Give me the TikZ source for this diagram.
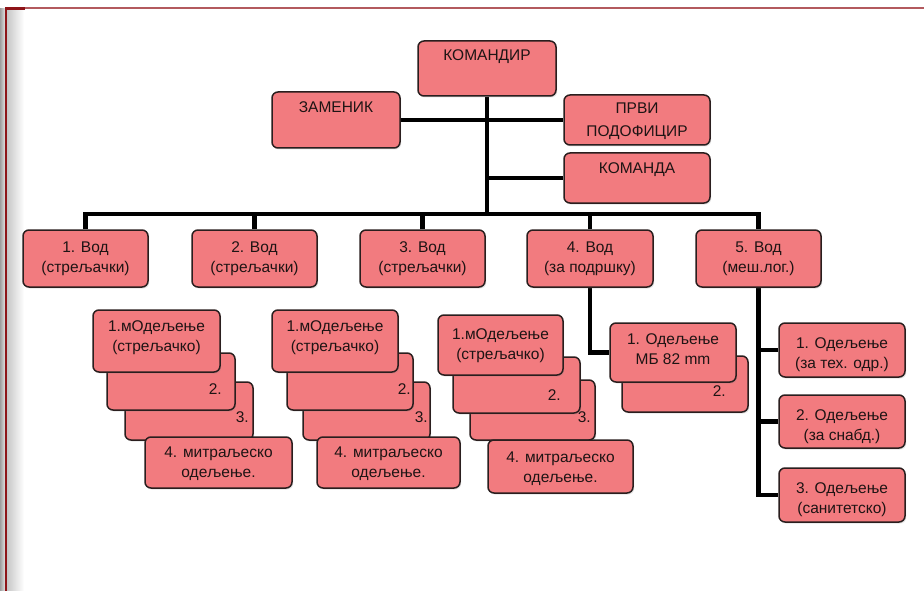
\documentclass[tikz,border=0pt]{standalone}
\usepackage{fontspec}
\setmainfont{Liberation Sans}
\usetikzlibrary{backgrounds,shadows}
\definecolor{boxfill}{HTML}{F27B7F}
\definecolor{boxedge}{HTML}{2A1E1E}
\definecolor{framedk}{HTML}{8E1418}
\definecolor{framelt}{HTML}{B35A5E}
\definecolor{txtc}{HTML}{1E1414}
% \obox[opts]{name}{x1}{y1}{x2}{y2}{text}
\newcommand\obox[7][]{%
  \node[box, minimum width={(#5)-(#3)}, minimum height={(#6)-(#4)}, #1]
    (#2) at ({((#3)+(#5))/2},{((#4)+(#6))/2}) {#7};}
\begin{document}
\begin{tikzpicture}[x=1pt,y=-1pt,
  box/.style={draw=boxedge, fill=boxfill, line width=1.5pt, rounded corners=6pt,
    inner sep=0pt, align=center, text=txtc,
    font=\fontsize{15.5}{20}\selectfont,
    drop shadow={opacity=0.22, shadow xshift=1.2pt, shadow yshift=-1.5pt}},
  th/.style 2 args={text height=#1pt, text depth=#2pt},
  lbl/.style={inner sep=0pt, text=txtc, font=\fontsize{15.5}{20}\selectfont, anchor=east},
  conn/.style={line width=4.5pt, black, line join=miter}]
\useasboundingbox (0,0) rectangle (924,591);

% top
\obox[th={19.4}{35.6}]{kom}{418}{41}{556}{96}{КОМАНДИР}
\obox[th={20.4}{35.6}]{zam}{272}{92}{400}{148}{ЗАМЕНИК}
\obox[th={41.9}{8.1}]{prvi}{564}{95}{710}{145}{ПРВИ\\[3pt]ПОДОФИЦИР}
\obox[th={20.4}{29.6}]{koma}{564}{153}{710}{203}{КОМАНДА}

% level 2
\obox[th={42.4}{14.6}]{v1}{23}{230}{148}{287}{1. Вод\\(стрељачки)}
\obox[th={42.4}{14.6}]{v2}{192}{230}{317}{287}{2. Вод\\(стрељачки)}
\obox[th={42.4}{14.6}]{v3}{360}{230}{485}{287}{3. Вод\\(стрељачки)}
\obox[th={42.4}{14.6}]{v4}{527}{230}{653}{287}{4. Вод\\(за подршку)}
\obox[th={42.4}{14.6}]{v5}{696}{230}{821}{287}{5. Вод\\(меш.лог.)}

% stack 1
\obox{s1c}{125}{382}{253}{440}{}
\node[lbl] (l1c) at (249,417) {3.};
\obox[th={40.4}{10.6}]{s1d}{145}{437}{292}{488}{4. митраљеско\\одељење.}
\obox{s1b}{107}{353}{235}{410}{}
\node[lbl] (l1b) at (222,389) {2.};
\obox[th={41.4}{20.6}]{s1a}{93}{310}{220}{372}{1.мОдељење\\(стрељачко)}

% stack 2
\obox{s2c}{303}{382}{430}{440}{}
\node[lbl] (l2c) at (428,417) {3.};
\obox[th={40.4}{10.6}]{s2d}{317}{437}{460}{488}{4. митраљеско\\одељење.}
\obox{s2b}{287}{353}{413}{410}{}
\node[lbl] (l2b) at (411,389) {2.};
\obox[th={41.4}{20.6}]{s2a}{272}{310}{398}{372}{1.мОдељење\\(стрељачко)}

% stack 3
\obox{s3c}{470}{380}{595}{440}{}
\node[lbl] (l3c) at (591,417) {3.};
\obox[th={42.4}{10.6}]{s3d}{488}{440}{633}{493}{4. митраљеско\\одељење.}
\obox{s3b}{453}{357}{580}{413}{}
\node[lbl] (l3b) at (561,395) {2.};
\obox[th={44.4}{15.6}]{s3a}{438}{315}{563}{375}{1.мОдељење\\(стрељачко)}

% 4. vod
\obox{mb2}{622}{356}{748}{412}{}
\node[lbl] (lmb) at (726,391) {2.};
\obox[th={41.4}{17.6}]{mb1}{610}{323}{736}{382}{1. Одељење\\МБ 82 mm}

% 5. vod
\obox[th={45.4}{8.6}]{o1}{779}{323}{905}{377}{1. Одељење\\(за тех. одр.)}
\obox[th={45.4}{7.6}]{o2}{779}{395}{905}{448}{2. Одељење\\(за снабд.)}
\obox[th={45.4}{8.6}]{o3}{779}{468}{905}{522}{3. Одељење\\(санитетско)}

\begin{scope}[on background layer]
  \fill[white] (0,0) rectangle (924,591);
  % frame
  \shade[left color=black!38, right color=black!12] (0,9) rectangle (5,591);
  \shade[left color=black!22, right color=white] (7,9.5) rectangle (24,591);
  \draw[framelt, line width=2pt] (5,8.5) -- (924,8.5);
  \draw[framedk, line width=2.5pt] (5,8.5) -- (25,8.5);
  \draw[framedk, line width=2.5pt] (6.2,8) -- (6.2,591);
  % connectors
  \coordinate (bus) at (0,214);
  \draw[conn] (kom.south) -- (kom.south |- bus);
  \draw[conn] (zam.east) -- (prvi.west);
  \draw[conn] (koma.west) -- (koma.west -| kom.south);
  \draw[conn] (v1.north) -- (v1.north |- bus) -- (v5.north |- bus) -- (v5.north);
  \foreach \n in {v2,v3,v4} \draw[conn] (\n.north) -- (\n.north |- bus);
  \draw[conn] (v4.south) |- (mb1.west);
  \draw[conn] (v5.south) |- (o3.west);
  \draw[conn] (o1.west) -- (o1.west -| v5.south);
  \draw[conn] (o2.west) -- (o2.west -| v5.south);
\end{scope}
\end{tikzpicture}
\end{document}
